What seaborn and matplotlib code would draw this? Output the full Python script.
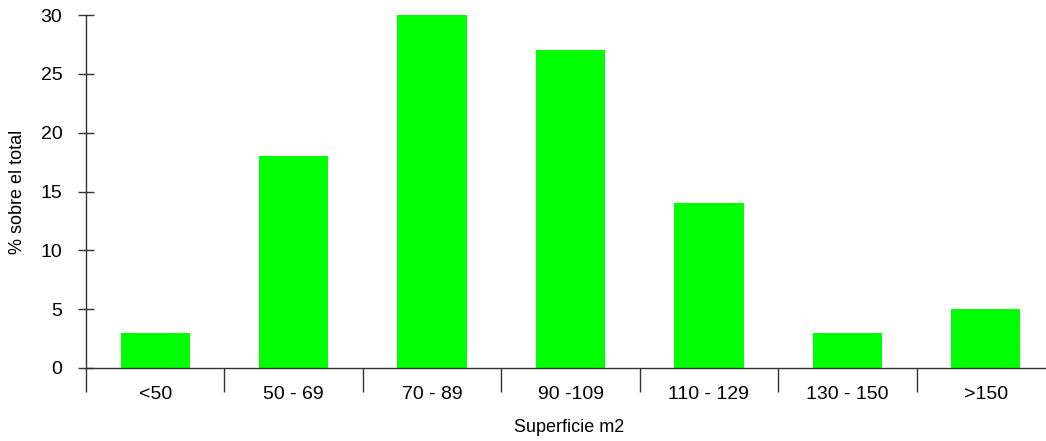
import matplotlib
matplotlib.use('Agg')
import matplotlib.pyplot as plt
import seaborn as sns
import pandas as pd
from matplotlib.ticker import FixedLocator

# data
categorias = ['<50', '50 - 69', '70 - 89', '90 -109', '110 - 129', '130 - 150', '>150']
porcentajes = [3, 18, 30, 27, 14, 3, 5]
y_ticks = [0, 5, 10, 15, 20, 25, 30]

df = pd.DataFrame({'Superficie': categorias, 'Porcentaje': porcentajes})

sns.set_style('white')
plt.rcParams['font.family'] = ['Liberation Sans', 'DejaVu Sans']
plt.rcParams['text.color'] = 'black'
plt.rcParams['xtick.color'] = 'black'
plt.rcParams['ytick.color'] = 'black'
plt.rcParams['axes.labelcolor'] = 'black'

fig = plt.figure(figsize=(10.46, 4.41), dpi=100)
# axes runs a bit past the right edge, like the original
ax = fig.add_axes([86 / 1046, 73 / 441, 969 / 1046, 353 / 441])

sns.barplot(x='Superficie', y='Porcentaje', data=df, color='#00ff00',
            saturation=1, width=0.5, linewidth=0, ax=ax)

ax.set_xlim(-0.5, len(categorias) - 0.5)
ax.set_ylim(0, 30)
ax.set_yticks(y_ticks)

for s in ['top', 'right']:
    ax.spines[s].set_visible(False)
for s in ['left', 'bottom']:
    ax.spines[s].set_color('#333333')
    ax.spines[s].set_linewidth(1)

ax.tick_params(axis='y', direction='inout', length=12, width=1,
               color='#333333', labelsize=14, pad=11, left=True)
ax.tick_params(axis='x', which='major', length=0, labelsize=14, pad=13)
ax.xaxis.set_minor_locator(FixedLocator([i - 0.5 for i in range(len(categorias))]))
ax.tick_params(axis='x', which='minor', direction='out', length=17, width=1,
               color='#333333', bottom=True)

ax.set_xlabel('Superficie m2', fontsize=13, va='center')
ax.set_ylabel('% sobre el total', fontsize=13, va='center')
ax.xaxis.set_label_coords((569 - 86) / 969, (13 - 73) / 353)
ax.yaxis.set_label_coords((18 - 86) / 969, 0.5)

fig.savefig('out.png', dpi=100)
